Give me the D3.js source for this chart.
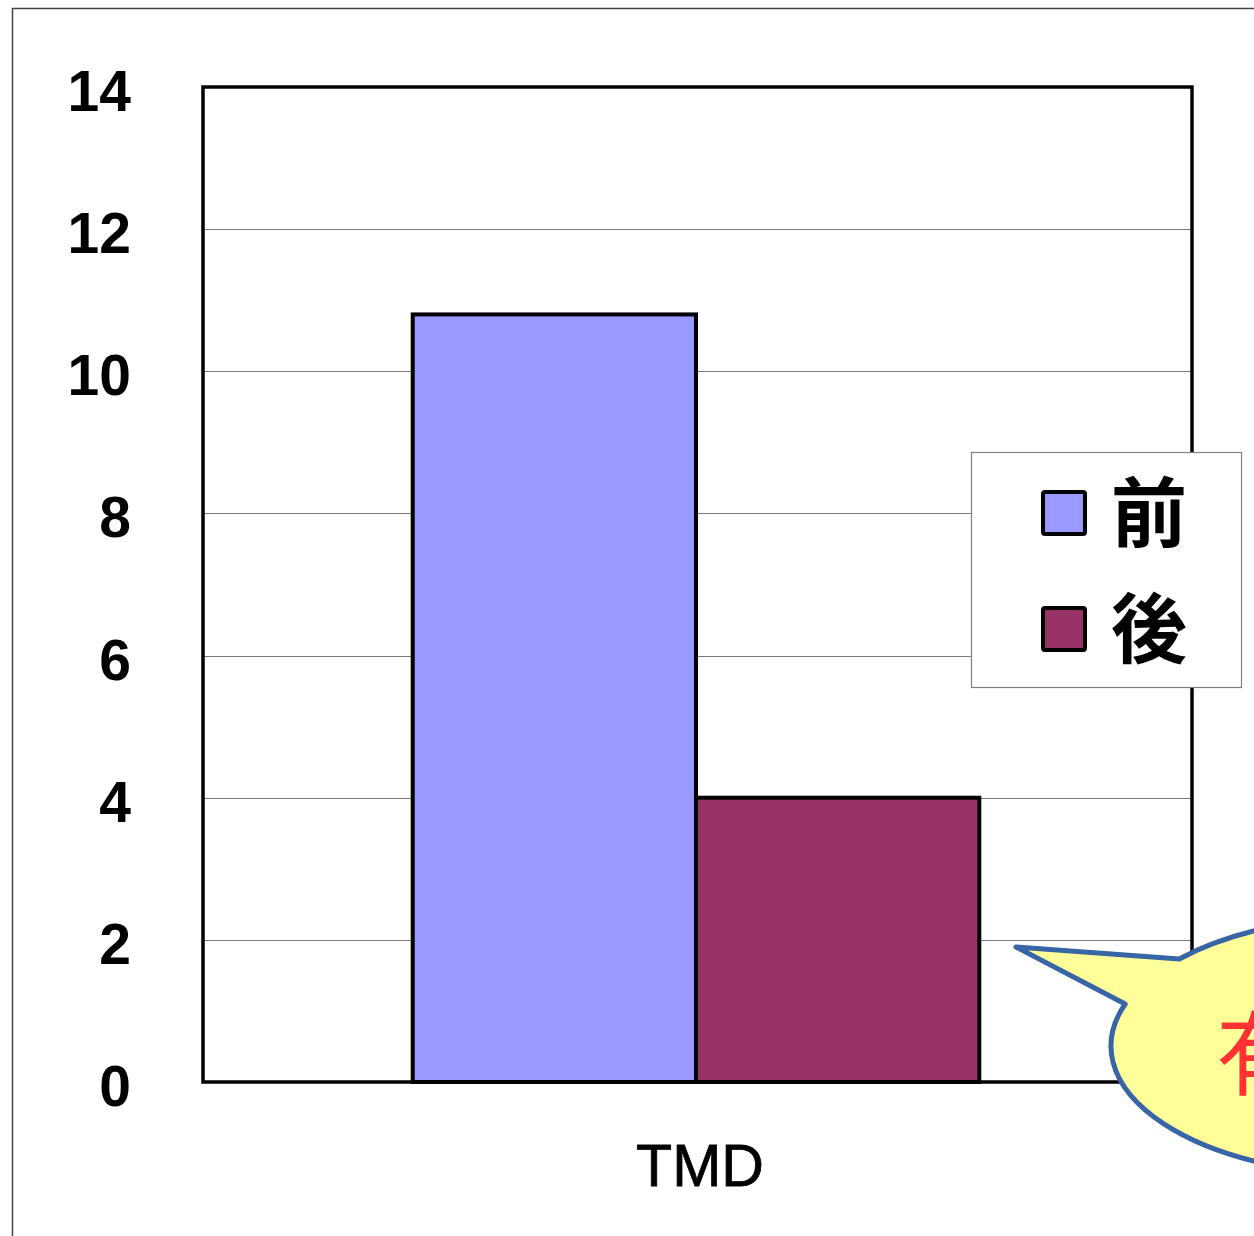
<!DOCTYPE html>
<html><head><meta charset="utf-8">
<script src="https://cdn.jsdelivr.net/npm/d3@7"></script>
<style>html,body{margin:0;padding:0;background:#fff;overflow:hidden}</style>
</head><body>
<script>
const categories = ["TMD"];
const seriesNames = ["前", "後"];
const seriesValues = [[10.8], [4.0]];
const seriesColors = ["#9999FF", "#993366"];
const yTicks = [0, 2, 4, 6, 8, 10, 12, 14];
const calloutText = "有意差";

const W = 1254, H = 1236;
const svg = d3.select("body").append("svg").attr("width", W).attr("height", H);

// outer frame
svg.append("rect").attr("x", 12.5).attr("y", 8.5).attr("width", 1400).attr("height", 1400)
  .attr("fill", "none").attr("stroke", "#444").attr("stroke-width", 1.5);

const L = 203, R = 1192, T = 87, B = 1082;
const y = d3.scaleLinear().domain([0, 14]).range([B, T]);
const x0 = d3.scaleBand().domain(categories).range([L - 2, R - 1]).paddingInner(0).paddingOuter(0.3737);
const x1 = d3.scaleBand().domain(seriesNames).range([0, x0.bandwidth()]);

// gridlines
svg.append("g").selectAll("line").data(yTicks.filter(t => t > 0 && t < 14)).join("line")
  .attr("x1", L).attr("x2", R).attr("y1", d => Math.round(y(d)) + 0.5).attr("y2", d => Math.round(y(d)) + 0.5)
  .attr("stroke", "#777").attr("stroke-width", 1);

// y labels
svg.append("g").selectAll("text").data(yTicks).join("text")
  .attr("x", 131).attr("y", d => y(d) + 24)
  .attr("text-anchor", "end")
  .attr("font-family", "Liberation Sans, Arial, sans-serif").attr("font-weight", "bold")
  .attr("font-size", 57).attr("fill", "#000").text(d => d);

// bars
categories.forEach((c, ci) => {
  seriesNames.forEach((s, si) => {
    const v = seriesValues[si][ci];
    svg.append("rect")
      .attr("x", x0(c) + x1(s)).attr("y", y(v))
      .attr("width", x1.bandwidth()).attr("height", y(0) - y(v))
      .attr("fill", seriesColors[si]).attr("stroke", "#000").attr("stroke-width", 4);
  });
});

// plot border
svg.append("rect").attr("x", L).attr("y", T).attr("width", R - L).attr("height", B - T)
  .attr("fill", "none").attr("stroke", "#000").attr("stroke-width", 3.5);

// x label
svg.append("text").attr("x", x0("TMD") + x0.bandwidth() / 2 + 4).attr("y", 1186)
  .attr("text-anchor", "middle").attr("font-family", "Liberation Sans, Arial, sans-serif")
  .attr("font-size", 59).attr("stroke", "#000").attr("stroke-width", 0.8)
  .attr("fill", "#000").text(categories[0]);

// legend
const lg = svg.append("g");
lg.append("rect").attr("x", 971.5).attr("y", 452.5).attr("width", 270).attr("height", 235)
  .attr("fill", "#fff").attr("stroke", "#808080").attr("stroke-width", 1.2);
const legY = [513, 629];
seriesNames.forEach((s, i) => {
  lg.append("rect").attr("x", 1043).attr("y", legY[i] - 21).attr("width", 42).attr("height", 42)
    .attr("rx", 2).attr("fill", seriesColors[i]).attr("stroke", "#000").attr("stroke-width", 4);
  lg.append("text").attr("x", 1111).attr("y", legY[i] + 28)
    .attr("font-family", "Noto Sans CJK JP, sans-serif").attr("font-weight", "bold")
    .attr("font-size", 76).attr("fill", "#000").text(s);
});

// callout
const cx = 1372, cy = 1046, rx = 261, ry = 129;
function pt(yv) { const s = (yv - cy) / ry; const c = Math.sqrt(1 - s * s); return [cx - rx * c, yv]; }
const p1 = pt(1004), p2 = pt(959);
const tip = [1016, 947];
const path = `M${p1[0]},${p1[1]} L${tip[0]},${tip[1]} L${p2[0]},${p2[1]} A${rx},${ry} 0 1 1 ${p1[0]},${p1[1]} Z`;
svg.append("path").attr("d", path).attr("fill", "#FFFF99").attr("stroke", "#3765A5")
  .attr("stroke-width", 5).attr("stroke-linejoin", "round");
svg.append("text").attr("x", 1216).attr("y", 1088)
  .attr("font-family", "Noto Sans CJK JP, sans-serif").attr("font-size", 92)
  .attr("fill", "#FF3333").text(calloutText);
</script>
</body></html>
